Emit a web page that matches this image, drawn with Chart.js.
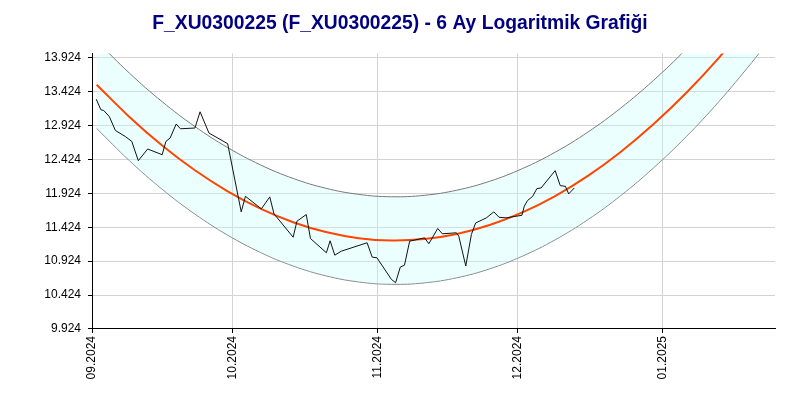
<!DOCTYPE html>
<html>
<head>
<meta charset="utf-8">
<title>F_XU0300225 - 6 Ay Logaritmik Grafiği</title>
<script src="https://cdn.jsdelivr.net/npm/chart.js@4.4.1/dist/chart.umd.min.js"></script>
<style>
    body { margin: 0; background: #fff; }
    #wrap { width: 800px; height: 400px; }
</style>
</head>
<body>
<div id="wrap"><canvas id="chart" width="800" height="400"></canvas></div>
<script>
// days counted from 01.09.2024
const monthTickDays = [0, 30, 61, 91, 122];
const monthLabels = ['09.2024', '10.2024', '11.2024', '12.2024', '01.2025'];
const yTicks = [9924, 10424, 10924, 11424, 11924, 12424, 12924, 13424, 13924];

// price (black line)
const priceDays = [0.9, 1.9, 2.5, 3.7, 5.0, 7.1, 8.5, 9.9, 11.9, 15.0, 15.8, 16.7, 18.0, 18.9, 22.0, 23.1, 25.0, 29.0,
    31.9, 32.8, 36.2, 38.0, 38.9, 43.0, 43.8, 45.8, 46.7, 50.1, 50.9, 51.9, 53.3, 58.8, 59.9, 60.9,
    64.0, 64.9, 65.9, 66.8, 67.9, 71.1, 72.0, 73.9, 74.9, 77.9, 78.4, 79.9, 81.1, 82.0, 84.3, 85.9, 87.0, 88.5,
    91.9, 92.4, 93.1, 94.2, 95.1, 96.0, 99.0, 100.1, 101.2, 101.9, 103.1];
const priceValues = [13312, 13155, 13145, 13056, 12850, 12762, 12689, 12405, 12577, 12493, 12689, 12739, 12945, 12875, 12886, 13125, 12812, 12655,
    11650, 11880, 11695, 11871, 11621, 11277, 11512, 11611, 11258, 11048, 11224, 11012, 11071, 11195, 10983, 10974,
    10655, 10606, 10836, 10865, 11218, 11268, 11180, 11405, 11327, 11342, 11292, 10853, 11317, 11486, 11562, 11650, 11571, 11562,
    11600, 11733, 11817, 11880, 11993, 12003, 12258, 12037, 12027, 11915, 12003];

// trend curve and channel
const curveDays = [1, 8, 15, 22, 29, 36, 43, 50, 57, 64, 71, 78, 85, 92, 99, 106, 113, 120, 127, 134, 141, 146];
const trendValues = [13525, 13050, 12629, 12263, 11953, 11698, 11498, 11353, 11263, 11228, 11249, 11325, 11456, 11643, 11884, 12181, 12534, 12942, 13403, 13921, 14495, 14936];
const upperValues = [14170, 13695, 13274, 12908, 12598, 12343, 12143, 11998, 11908, 11873, 11894, 11970, 12101, 12288, 12529, 12826, 13179, 13587, 14048, 14566, 15140, 15581];
const lowerValues = [12880, 12405, 11984, 11618, 11308, 11053, 10853, 10708, 10618, 10583, 10604, 10680, 10811, 10998, 11239, 11536, 11889, 12297, 12758, 13276, 13850, 14291];

function toPoints(xs, ys) {
    return xs.map((x, i) => ({ x: x, y: ys[i] }));
}

function fmt(v) {
    return Math.round(v).toString().replace(/\B(?=(\d{3})+(?!\d))/g, '.');
}

const tickFont = { family: 'Liberation Sans, Arial, sans-serif', size: 12 };
const ctx = document.getElementById('chart').getContext('2d');

// first dataset is drawn on top, so the price line comes first and the channel last
new Chart(ctx, {
    type: 'line',
    data: {
        datasets: [
            {
                label: 'F_XU0300225',
                data: toPoints(priceDays, priceValues),
                borderColor: '#111',
                borderWidth: 1,
                fill: false,
                tension: 0,
                pointRadius: 0
            },
            {
                label: 'Trend',
                data: toPoints(curveDays, trendValues),
                borderColor: '#ff4500',
                borderWidth: 2,
                fill: false,
                tension: 0.4,
                pointRadius: 0
            },
            {
                label: 'Üst',
                data: toPoints(curveDays, upperValues),
                borderColor: '#7a7a7a',
                borderWidth: 1,
                backgroundColor: 'rgba(200, 255, 255, 0.35)',
                fill: '+1',
                tension: 0.4,
                pointRadius: 0
            },
            {
                label: 'Alt',
                data: toPoints(curveDays, lowerValues),
                borderColor: '#7a7a7a',
                borderWidth: 1,
                fill: false,
                tension: 0.4,
                pointRadius: 0
            }
        ]
    },
    options: {
        responsive: false,
        animation: false,
        layout: { padding: 0 },
        elements: { line: { capBezierPoints: false } },
        plugins: {
            legend: { display: false },
            tooltip: { enabled: false },
            title: {
                display: true,
                text: 'F_XU0300225 (F_XU0300225) - 6 Ay Logaritmik Grafiği',
                color: '#000080',
                font: { family: 'Liberation Sans, Arial, sans-serif', size: 19.3, weight: 'bold' },
                padding: { top: 12, bottom: 18.3 }
            }
        },
        scales: {
            x: {
                type: 'linear',
                min: 0,
                max: 146,
                afterBuildTicks: scale => {
                    scale.ticks = monthTickDays.map(v => ({ value: v }));
                },
                afterFit: scale => {
                    scale.height = 71;
                },
                ticks: {
                    autoSkip: false,
                    minRotation: 90,
                    maxRotation: 90,
                    padding: 3,
                    color: '#000',
                    font: tickFont,
                    callback: value => monthLabels[monthTickDays.indexOf(value)]
                },
                grid: { color: '#d3d3d3', tickColor: '#000', tickLength: 4 },
                border: { color: '#000', width: 1 }
            },
            y: {
                type: 'linear',
                min: 9924,
                max: 13985,
                afterBuildTicks: scale => {
                    scale.ticks = yTicks.map(v => ({ value: v }));
                },
                afterFit: scale => {
                    scale.width = 92;
                },
                ticks: {
                    padding: 7,
                    color: '#000',
                    font: tickFont,
                    callback: value => fmt(value)
                },
                grid: { color: '#d3d3d3', tickColor: '#000', tickLength: 4 },
                border: { color: '#000', width: 1 }
            },
            // empty right axis, only keeps the 25px margin on the right
            yRight: {
                position: 'right',
                min: 9924,
                max: 13985,
                afterFit: scale => {
                    scale.width = 25;
                },
                ticks: { display: false },
                grid: { display: false, drawTicks: false },
                border: { display: false }
            }
        }
    }
});
</script>
</body>
</html>
